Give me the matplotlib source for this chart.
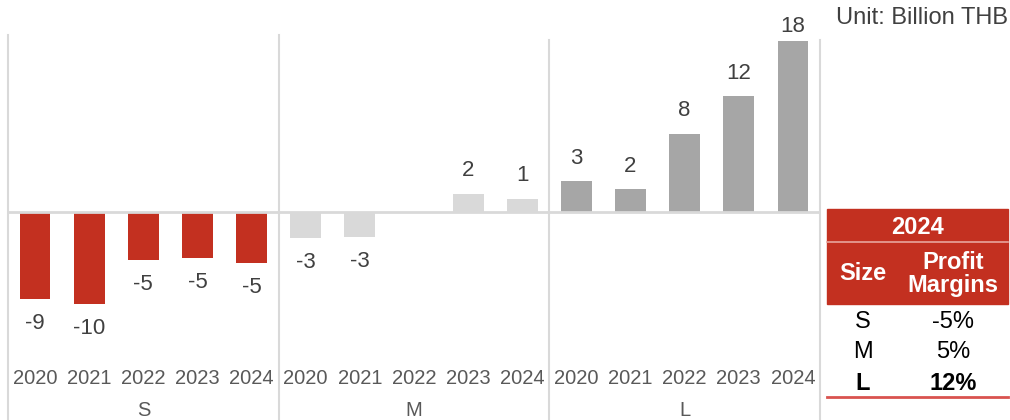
import matplotlib.pyplot as plt
from matplotlib.patches import Rectangle

plt.rcParams['font.family'] = ['Liberation Sans', 'DejaVu Sans']

# data (Billion THB)
groups = ['S', 'M', 'L']
years = ['2020', '2021', '2022', '2023', '2024']
s_values = [-9.1, -9.6, -5.0, -4.8, -5.3]
m_values = [-2.7, -2.6, 0.0, 1.9, 1.4]
l_values = [3.2, 2.4, 8.2, 12.1, 17.9]
group_colors = ['#C33020', '#D9D9D9', '#A6A6A6']

table_sizes = ['S', 'M', 'L']
table_margins = ['-5%', '5%', '12%']

W, H = 1010, 420
fig = plt.figure(figsize=(W / 100, H / 100), dpi=100)

# pixel layout helpers
x0, x1 = 8, 820
zero_px = 212
px_per_unit = 9.55
ytop = zero_px / px_per_unit
ybot = -(H - zero_px) / px_per_unit

ax = fig.add_axes([x0 / W, 0, (x1 - x0) / W, 1])
ax.set_xlim(0, 15)
ax.set_ylim(ybot, ytop)
ax.axis('off')

def py(p):
    # pixel row (from top) -> data y
    return (zero_px - p) / px_per_unit

grid_c = '#D9D9D9'
# group dividers
for g, top in zip(range(4), [35, 35, 40, 40]):
    ax.plot([g * 5, g * 5], [py(top), ybot], color=grid_c, lw=1.5, zorder=1, clip_on=False)
ax.plot([0, 15], [0, 0], color=grid_c, lw=2, zorder=3)

all_values = [s_values, m_values, l_values]
for g, vals in enumerate(all_values):
    xs = [g * 5 + i + 0.5 for i in range(len(vals))]
    ax.bar(xs, vals, width=0.57, color=group_colors[g], zorder=2)
    for x, v in zip(xs, vals):
        if abs(v) < 0.5:
            continue
        # label centre ~23px above / ~25px below the bar end, kept inside the top
        if v > 0:
            ly = min(v + 23 / px_per_unit, py(26))
        else:
            ly = v - 25 / px_per_unit
        ax.text(x, ly, f'{round(v):d}', ha='center', va='center', fontsize=16, color='#404040')
    for x, yr in zip(xs, years):
        ax.text(x, py(378), yr, ha='center', va='center', fontsize=14.5, color='#595959')
    ax.text(g * 5 + 2.5, py(411), groups[g], ha='center', va='center', fontsize=14.5, color='#595959')

# unit note
fig.text(1008 / W, 1 - 18 / H, 'Unit: Billion THB', ha='right', va='center',
         fontsize=17, color='#404040')

# side table
red = '#C33020'
tx0, tx1 = 827, 1008
fig.patches.append(Rectangle((tx0 / W, 1 - 304 / H), (tx1 - tx0) / W, (304 - 209) / H,
                             transform=fig.transFigure, color=red, zorder=1))
fig.lines.append(plt.Line2D([tx0 / W, tx1 / W], [1 - 242 / H, 1 - 242 / H],
                            transform=fig.transFigure, color='#E8A59C', lw=1.2))
fig.lines.append(plt.Line2D([tx0 / W, tx1 / W], [1 - 397 / H, 1 - 397 / H],
                            transform=fig.transFigure, color='#D9534F', lw=2))
c1, c2 = 863, 953
fig.text((tx0 + tx1) / 2 / W, 1 - 227 / H, '2024', ha='center', va='center',
         fontsize=17, fontweight='bold', color='white')
fig.text(c1 / W, 1 - 274 / H, 'Size', ha='center', va='center',
         fontsize=17, fontweight='bold', color='white')
fig.text(c2 / W, 1 - 274 / H, 'Profit\nMargins', ha='center', va='center',
         fontsize=17, fontweight='bold', color='white', linespacing=1.0)
for i, (s, m) in enumerate(zip(table_sizes, table_margins)):
    yy = 1 - (322 + i * 30.5) / H
    fw = 'bold' if s == 'L' else 'normal'
    fig.text(c1 / W, yy, s, ha='center', va='center', fontsize=17, fontweight=fw, color='black')
    fig.text(c2 / W, yy, m, ha='center', va='center', fontsize=17, fontweight=fw, color='black')

fig.savefig('out.png', dpi=100)
